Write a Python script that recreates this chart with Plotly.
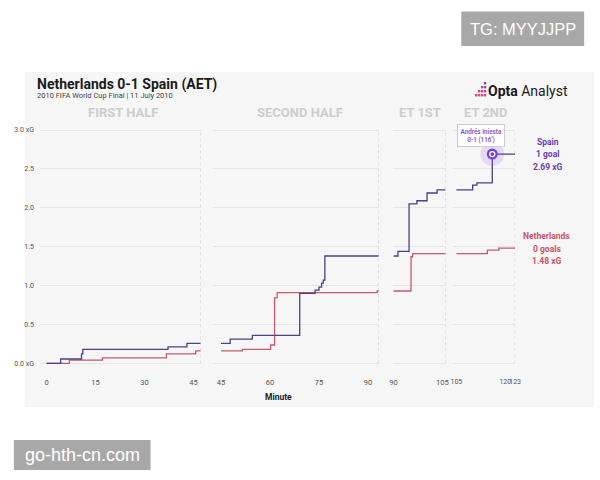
import plotly.graph_objects as go

# ---------------- data ----------------
seg_names = ["FIRST HALF", "SECOND HALF", "ET 1ST", "ET 2ND"]
seg_ranges = [[-2, 47.2], [42.5, 93.3], [90, 106], [104, 123]]
seg_tickvals = [[0, 15, 30, 45], [45, 60, 75, 90], [90, 105], [105, 120, 123]]

spain_min = [
    [0, 4.3, 10.7, 11.1, 37.2, 43.0, 47.2],
    [45, 47.8, 54.6, 69.1, 73.8, 75.0, 75.8, 76.3, 76.8, 93.3],
    [90, 91.4, 94.8, 97.2, 100.3, 103.4, 106],
    [105, 110, 111.3, 116, 123],
]
spain_xg = [
    [0, 0.055, 0.12, 0.18, 0.21, 0.255, 0.255],
    [0.255, 0.31, 0.36, 0.90, 0.94, 0.98, 1.03, 1.07, 1.38, 1.38],
    [1.38, 1.44, 2.05, 2.09, 2.19, 2.23, 2.23],
    [2.23, 2.29, 2.32, 2.69, 2.69],
]
ned_min = [
    [0, 7.0, 17.1, 36.7, 45.7, 47.2],
    [45, 51.5, 60.2, 61.4, 62.2, 92.8, 93.3],
    [90, 95.4, 95.9, 106],
    [105, 114.5, 118, 123],
]
ned_xg = [
    [0, 0.04, 0.07, 0.12, 0.16, 0.16],
    [0.16, 0.18, 0.235, 0.84, 0.91, 0.93, 0.93],
    [0.93, 1.37, 1.41, 1.41],
    [1.41, 1.455, 1.48, 1.48],
]
goal_minute = [116]
goal_xg = [2.69]
y_tickvals = [0, 0.5, 1.0, 1.5, 2.0, 2.5, 3.0]
y_ticktext = ["0.0 xG", "0.5", "1.0", "1.5", "2.0", "2.5", "3.0 xG"]
spain_label = ["Spain", "1 goal", "2.69 xG"]
ned_label = ["Netherlands", "0 goals", "1.48 xG"]

# ---------------- styling ----------------
W, H = 600, 480
SPAIN = "#4d3f80"
NED = "#c25b6e"
SPAIN_TXT = "#6a3db5"
NED_TXT = "#c9546c"
PANEL = "#f6f6f6"
FONT = "Roboto"
seg_px = [[36.66, 200.0], [212.4, 381.1], [396.0, 449.1], [456.7, 519.8]]
seg_tick_size = [7.5, 7.5, 7.5, 7.0]


def px2x(p):
    return p / W


def py2y(p):
    return 1 - p / H


fig = go.Figure()
axis_ids = ["x", "x2", "x3", "x4"]
for i in range(4):
    fig.add_trace(go.Scatter(x=ned_min[i], y=ned_xg[i], xaxis=axis_ids[i], yaxis="y",
                             mode="lines", line=dict(color=NED, width=1.3, shape="hv"),
                             showlegend=False, hoverinfo="skip"))
    fig.add_trace(go.Scatter(x=spain_min[i], y=spain_xg[i], xaxis=axis_ids[i], yaxis="y",
                             mode="lines", line=dict(color=SPAIN, width=1.3, shape="hv"),
                             showlegend=False, hoverinfo="skip"))

# goal marker
fig.add_trace(go.Scatter(x=goal_minute, y=goal_xg, xaxis="x4", yaxis="y", mode="markers",
                         marker=dict(size=24, color="rgba(150,100,235,0.18)"),
                         showlegend=False, hoverinfo="skip"))
fig.add_trace(go.Scatter(x=goal_minute, y=goal_xg, xaxis="x4", yaxis="y", mode="markers",
                         marker=dict(size=11, color="#7a3fd4"),
                         showlegend=False, hoverinfo="skip"))
fig.add_trace(go.Scatter(x=goal_minute, y=goal_xg, xaxis="x4", yaxis="y", mode="markers",
                         marker=dict(size=5, symbol="circle-open", color="white", line=dict(width=1.3, color="white")),
                         showlegend=False, hoverinfo="skip"))

# y axis: 0 at py 363.3, 3.0 at py 130
yr = [-0.1, 3.05]
unit = (363.3 - 130) / 3.0
ybot = 363.3 + (0 - yr[0]) * unit
ytop = 130 - (yr[1] - 3.0) * unit

layout = dict(
    width=W, height=H, margin=dict(l=0, r=0, t=0, b=0),
    paper_bgcolor="white", plot_bgcolor=PANEL,
    font=dict(family=FONT, color="#555555", size=7),
    yaxis=dict(domain=[py2y(ybot), py2y(ytop)], range=yr, tickvals=y_tickvals, ticktext=y_ticktext,
               showgrid=True, gridcolor="#e6e6e6", gridwidth=1, zeroline=False, showline=False,
               ticks="", tickfont=dict(size=7, color="#555555", family=FONT), anchor="x",
               ticklabelstandoff=5),
)
for i in range(4):
    key = "xaxis" if i == 0 else f"xaxis{i + 1}"
    layout[key] = dict(domain=[px2x(seg_px[i][0]), px2x(seg_px[i][1])], range=seg_ranges[i],
                       tickvals=seg_tickvals[i], ticktext=[str(v) for v in seg_tickvals[i]],
                       showgrid=False, zeroline=False, showline=False, ticks="", anchor="y",
                       tickangle=0,
                       tickfont=dict(size=seg_tick_size[i], color="#555555", family=FONT), ticklabelstandoff=5)
fig.update_layout(**layout)

shapes = []
# panel background
shapes.append(dict(type="rect", xref="paper", yref="paper", x0=px2x(21), x1=px2x(600), y0=py2y(407), y1=py2y(72),
                   fillcolor=PANEL, line=dict(width=0), layer="below"))
# dashed segment ends
for i in range(4):
    shapes.append(dict(type="line", xref=axis_ids[i], yref="y", x0=seg_ranges[i][1], x1=seg_ranges[i][1],
                       y0=0, y1=2.99, line=dict(color="#cfcfcf", width=1, dash="3px,3px"), layer="below"))
# watermark boxes
shapes.append(dict(type="rect", xref="paper", yref="paper", x0=px2x(465), x1=px2x(590), y0=py2y(46), y1=py2y(11.5),
                   fillcolor="#a8a8a8", line=dict(width=0)))
shapes.append(dict(type="rect", xref="paper", yref="paper", x0=px2x(10), x1=px2x(149), y0=py2y(470), y1=py2y(440),
                   fillcolor="#a8a8a8", line=dict(width=0)))
# logo icon (small squares in a staircase)
logo_sq = [(488, 82), (488, 86), (485, 86), (488, 90), (485, 90), (482, 90), (488, 94), (485, 94), (482, 94), (479, 94)]
logo_col = ["#8b3fc9", "#a13fbd", "#b240b0", "#c2409f", "#cf4192", "#da4286", "#e0437c", "#e44476", "#e74670", "#ea486a"]
for (cx, cy), c in zip(logo_sq, logo_col):
    shapes.append(dict(type="rect", xref="paper", yref="paper", x0=px2x(cx), x1=px2x(cx + 2.4), y0=py2y(cy + 2.4), y1=py2y(cy),
                       fillcolor=c, line=dict(width=0)))
fig.update_layout(shapes=shapes)

ann = []


def A(text, x, y, size, color, bold=False, xanchor="center", family=FONT, **kw):
    t = f"<b>{text}</b>" if bold else text
    d = dict(text=t, x=px2x(x), y=py2y(y), xref="paper", yref="paper", showarrow=False,
             xanchor=xanchor, yanchor="middle", font=dict(size=size, color=color, family=family))
    d.update(kw)
    ann.append(d)


A("Netherlands 0-1 Spain (AET)", 32, 84, 14, "#1a1a1a", bold=True, xanchor="left")
A("2010 FIFA World Cup Final | 11 July 2010", 32, 96, 7.5, "#444444", xanchor="left")
A("<b>Opta</b> Analyst", 490, 91, 14, "#1a1a1a", xanchor="left")
seg_label_x = [121, 301, 423, 490]
for name, x in zip(seg_names, seg_label_x):
    A(name, x, 113, 13, "#cdcdcd", bold=True)
A("Minute", 279, 397, 8.5, "#222222", bold=True)
for txt, yy in zip(spain_label, [141.7, 154.3, 166.7]):
    A(txt, 553, yy, 8.5, SPAIN_TXT, bold=True)
for txt, yy in zip(ned_label, [236, 249, 261]):
    A(txt, 552, yy, 8.5, NED_TXT, bold=True)
A("Andrés Iniesta<br>0-1 (116')", 485, 135, 6.3, "#8a63c8", bold=True,
  bgcolor="white", bordercolor="#cccccc", borderwidth=1, borderpad=2.5)
A("TG: MYYJJPP", 527.5, 29, 16.5, "white", family="Liberation Sans")
A("go-hth-cn.com", 79.5, 455, 18, "white", family="Liberation Sans")
fig.update_layout(annotations=ann)

fig.write_html("out.html")
